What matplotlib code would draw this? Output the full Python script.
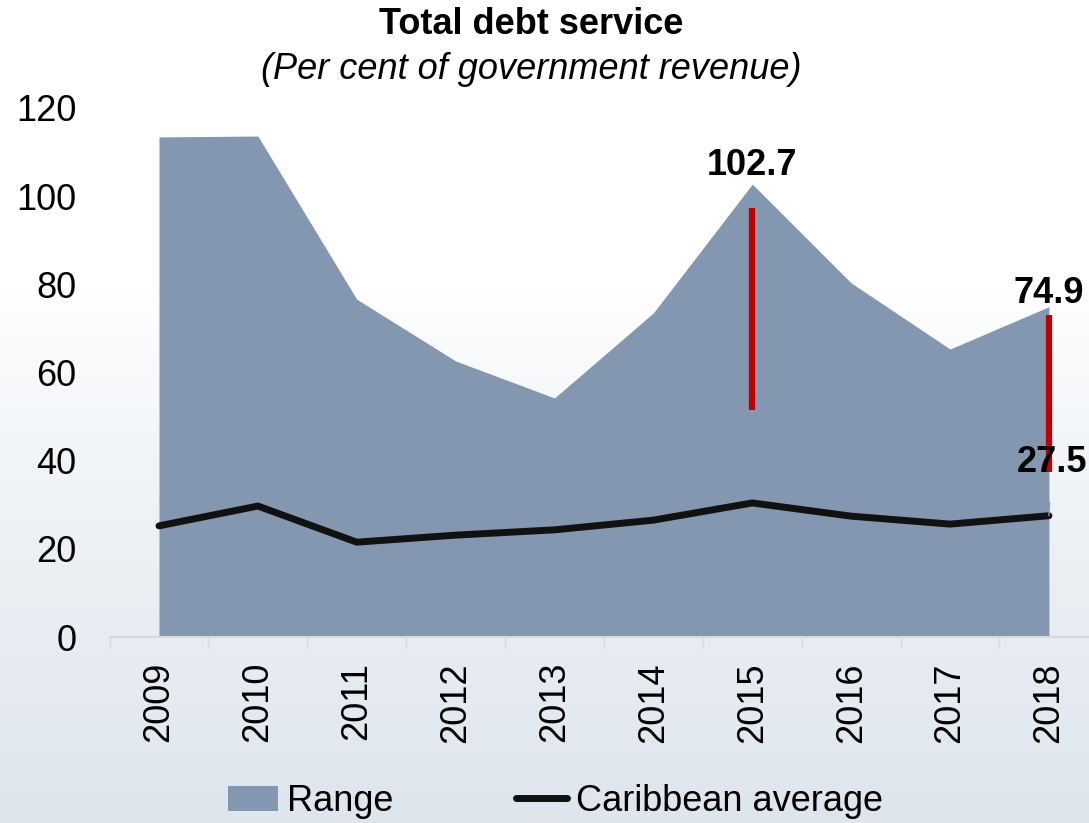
import numpy as np
import matplotlib
matplotlib.use("Agg")
import matplotlib.pyplot as plt
from matplotlib.ticker import MultipleLocator, FixedLocator

years = ["2009", "2010", "2011", "2012", "2013", "2014", "2015", "2016", "2017", "2018"]
range_max = [113.4, 113.6, 76.6, 62.6, 54.2, 73.5, 102.7, 80.3, 65.3, 74.9]
range_min = [0, 0, 0, 0, 0, 0, 0, 0, 0, 0]
caribbean_avg = [25.2, 29.7, 21.5, 23.1, 24.3, 26.5, 30.4, 27.4, 25.6, 27.5]
# red highlight bars (year index, bottom, top)
red_years = ["2015", "2018"]
red_bottom = [51.5, 37.4]
red_top = [97.3, 73.0]

FONT = ["Liberation Sans", "DejaVu Sans"]
plt.rcParams["font.family"] = FONT
FS = 26

fig = plt.figure(figsize=(10.89, 8.23), dpi=100)

# background gradient
bg = fig.add_axes([0, 0, 1, 1], zorder=-10)
grad = np.linspace(0, 1, 256)
col_top = np.array([1.0, 1.0, 1.0])
col_bot = np.array([0.87, 0.90, 0.93])
w = np.clip((grad - 0.35) / 0.65, 0, 1) ** 0.8
img = col_top[None, :] * (1 - w[:, None]) + col_bot[None, :] * w[:, None]
img = np.repeat(img[:, None, :], 4, axis=1)
bg.imshow(img, aspect="auto", extent=[0, 1, 0, 1], origin="upper")
bg.axis("off")

ax = fig.add_axes([0.1006, 0.226, 0.908, 0.643])
ax.patch.set_alpha(0)
x = np.arange(len(years))

ax.fill_between(x, range_min, range_max, color="#8497b0", linewidth=0, zorder=1, label="Range")
ax.plot(x, caribbean_avg, color="#111111", lw=5, solid_capstyle="round", solid_joinstyle="round",
        zorder=3, label="Caribbean average")

for yr, b, t in zip(red_years, red_bottom, red_top):
    i = years.index(yr)
    ax.plot([i, i], [b, t], color="#c00000", lw=4.5, solid_capstyle="butt", zorder=2)

# labels
i15 = years.index("2015")
ax.annotate(f"{range_max[i15]:.1f}", (i15, range_max[i15]), xytext=(0, 1), textcoords="offset points",
            ha="center", va="bottom", fontsize=FS, fontweight="bold", zorder=5)
i18 = years.index("2018")
ax.annotate(f"{range_max[i18]:.1f}", (i18, range_max[i18]), xytext=(0, -3), textcoords="offset points",
            ha="center", va="bottom", fontsize=FS, fontweight="bold", zorder=5)
ax.annotate(f"{caribbean_avg[i18]:.1f}", (i18, caribbean_avg[i18]), xytext=(2, 38), textcoords="offset points",
            ha="center", va="center", fontsize=FS, fontweight="bold", zorder=5,
            arrowprops=dict(arrowstyle="-", color="#999999", lw=1, shrinkA=14, shrinkB=0))

ax.set_xlim(-0.5, len(years) - 0.5)
ax.set_ylim(0, 120)
ax.yaxis.set_major_locator(MultipleLocator(20))
ax.set_xticks(x)
ax.set_xticklabels(years, rotation=90, fontsize=FS)
ax.xaxis.set_minor_locator(FixedLocator(np.arange(-0.5, len(years), 1.0)))
ax.tick_params(axis="x", which="major", length=0, pad=18)
ax.tick_params(axis="x", which="minor", length=8, color="#d9d9d9", width=1)
ax.tick_params(axis="y", length=0, pad=24, labelsize=FS)

for s in ["top", "right", "left"]:
    ax.spines[s].set_visible(False)
ax.spines["bottom"].set_color("#d9d9d9")
ax.spines["bottom"].set_linewidth(1.5)

fig.text(0.488, 0.970, "Total debt service", ha="center", va="center", fontsize=FS, fontweight="bold")
fig.text(0.488, 0.915, "(Per cent of government revenue)", ha="center", va="center", fontsize=FS,
         fontstyle="italic")

h, l = ax.get_legend_handles_labels()
fig.legend(h, l, loc="center", bbox_to_anchor=(0.51, 0.026), ncol=2, frameon=False, fontsize=FS,
           handlelength=1.4, handletextpad=0.25, columnspacing=3.4, borderpad=0, borderaxespad=0)

fig.savefig("out.png", dpi=100)
